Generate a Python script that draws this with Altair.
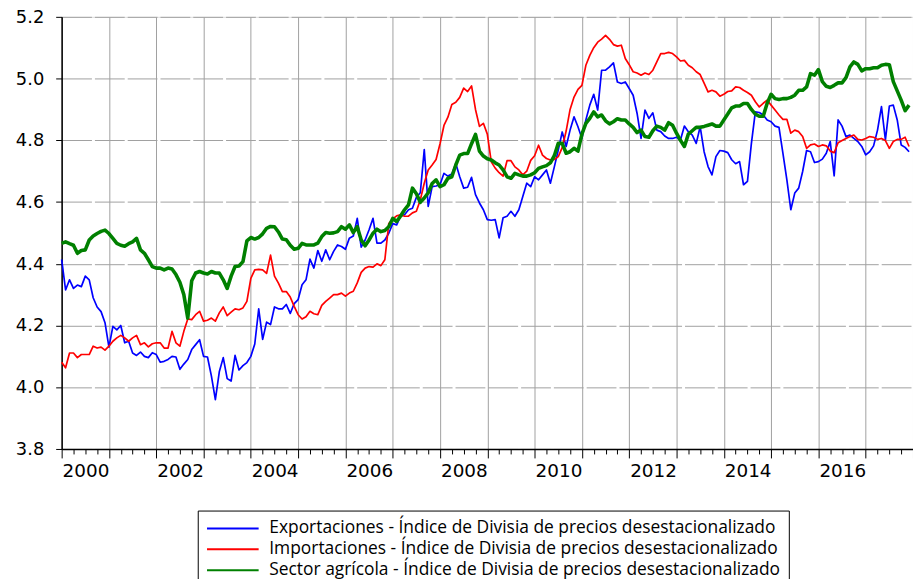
import altair as alt
import pandas as pd

# Monthly values, Jan 2000 - Dec 2017
exportaciones = [
    4.414, 4.315, 4.348, 4.32, 4.331, 4.326, 4.36, 4.348, 4.29, 4.26, 4.245, 4.209,
    4.13, 4.197, 4.186, 4.2, 4.144, 4.149, 4.111, 4.103, 4.114, 4.1, 4.096, 4.112,
    4.106, 4.081, 4.084, 4.09, 4.1, 4.098, 4.058, 4.075, 4.09, 4.122, 4.138, 4.154,
    4.1, 4.098, 4.036, 3.96, 4.05, 4.096, 4.028, 4.02, 4.103, 4.056, 4.07, 4.08,
    4.1, 4.14, 4.254, 4.155, 4.211, 4.203, 4.26, 4.254, 4.254, 4.268, 4.239, 4.271,
    4.284, 4.332, 4.348, 4.415, 4.386, 4.443, 4.408, 4.445, 4.413, 4.44, 4.461, 4.456,
    4.447, 4.483, 4.49, 4.547, 4.454, 4.477, 4.51, 4.547, 4.467, 4.467, 4.477, 4.499,
    4.53, 4.526, 4.554, 4.559, 4.575, 4.58, 4.615, 4.63, 4.77, 4.586, 4.65, 4.652,
    4.656, 4.693, 4.684, 4.691, 4.725, 4.682, 4.645, 4.648, 4.68, 4.624, 4.597, 4.575,
    4.543, 4.541, 4.543, 4.484, 4.549, 4.554, 4.57, 4.554, 4.575, 4.618, 4.661, 4.65,
    4.682, 4.672, 4.688, 4.704, 4.661, 4.714, 4.768, 4.827, 4.78, 4.833, 4.876, 4.844,
    4.806, 4.866, 4.914, 4.949, 4.898, 5.027, 5.027, 5.038, 5.051, 4.989, 4.984, 4.989,
    4.968, 4.946, 4.887, 4.806, 4.898, 4.871, 4.889, 4.833, 4.828, 4.814, 4.806, 4.806,
    4.81, 4.801, 4.846, 4.828, 4.817, 4.79, 4.844, 4.763, 4.715, 4.688, 4.747, 4.767,
    4.765, 4.76, 4.737, 4.724, 4.731, 4.656, 4.667, 4.79, 4.892, 4.89, 4.882, 4.866,
    4.86, 4.846, 4.842, 4.758, 4.672, 4.575, 4.629, 4.645, 4.699, 4.767, 4.763, 4.728,
    4.731, 4.739, 4.758, 4.796, 4.685, 4.866, 4.846, 4.812, 4.817, 4.806, 4.796, 4.78,
    4.753, 4.763, 4.782, 4.833, 4.909, 4.801, 4.911, 4.914, 4.866, 4.785, 4.777, 4.763,
]

importaciones = [
    4.081, 4.063, 4.111, 4.111, 4.096, 4.106, 4.106, 4.106, 4.133, 4.127, 4.13, 4.12,
    4.133, 4.149, 4.16, 4.168, 4.16, 4.149, 4.16, 4.168, 4.138, 4.144, 4.131, 4.141,
    4.144, 4.144, 4.127, 4.127, 4.181, 4.144, 4.133, 4.181, 4.221, 4.219, 4.235, 4.246,
    4.214, 4.217, 4.224, 4.214, 4.241, 4.26, 4.232, 4.243, 4.254, 4.251, 4.257, 4.278,
    4.353, 4.38, 4.382, 4.38, 4.369, 4.428, 4.36, 4.337, 4.31, 4.31, 4.292, 4.262,
    4.235, 4.221, 4.228, 4.246, 4.238, 4.235, 4.265, 4.278, 4.289, 4.3, 4.3, 4.305,
    4.295, 4.305, 4.311, 4.338, 4.372, 4.386, 4.391, 4.389, 4.4, 4.394, 4.413, 4.53,
    4.545, 4.555, 4.559, 4.554, 4.554, 4.565, 4.57, 4.607, 4.661, 4.704, 4.72, 4.738,
    4.789, 4.848, 4.875, 4.916, 4.923, 4.939, 4.969, 4.958, 4.976, 4.9, 4.845, 4.855,
    4.82, 4.73, 4.71, 4.695, 4.684, 4.734, 4.734, 4.714, 4.704, 4.688, 4.7, 4.735,
    4.75, 4.784, 4.752, 4.741, 4.736, 4.738, 4.747, 4.776, 4.83, 4.9, 4.94, 4.965,
    4.978, 5.043, 5.075, 5.1, 5.118, 5.128, 5.14, 5.127, 5.11, 5.105, 5.108, 5.065,
    5.045, 5.022, 5.018, 5.011, 5.018, 5.013, 5.027, 5.054, 5.081, 5.081, 5.085, 5.081,
    5.07, 5.057, 5.059, 5.043, 5.035, 5.022, 5.013, 4.985, 4.957, 4.962, 4.957, 4.943,
    4.949, 4.958, 4.96, 4.973, 4.971, 4.962, 4.955, 4.946, 4.925, 4.908, 4.92, 4.93,
    4.914, 4.898, 4.882, 4.868, 4.868, 4.823, 4.833, 4.828, 4.812, 4.774, 4.785, 4.788,
    4.78, 4.785, 4.782, 4.765, 4.76, 4.792, 4.799, 4.806, 4.812, 4.817, 4.803, 4.801,
    4.806, 4.812, 4.81, 4.803, 4.806, 4.799, 4.774, 4.796, 4.803, 4.803, 4.81, 4.78,
]

agricola = [
    4.466, 4.471, 4.465, 4.46, 4.434, 4.443, 4.445, 4.477, 4.49, 4.498, 4.505, 4.509,
    4.498, 4.482, 4.466, 4.46, 4.457, 4.465, 4.471, 4.482, 4.445, 4.434, 4.413, 4.391,
    4.386, 4.386, 4.38, 4.386, 4.383, 4.365, 4.34, 4.3, 4.224, 4.345, 4.37, 4.375,
    4.37, 4.367, 4.375, 4.37, 4.37, 4.348, 4.32, 4.36, 4.391, 4.393, 4.407, 4.474,
    4.485, 4.48, 4.485, 4.497, 4.515, 4.521, 4.52, 4.503, 4.48, 4.478, 4.46, 4.447,
    4.45, 4.466, 4.461, 4.461, 4.461, 4.467, 4.488, 4.501, 4.499, 4.5, 4.504, 4.52,
    4.512, 4.526, 4.501, 4.52, 4.477, 4.458, 4.477, 4.499, 4.512, 4.504, 4.508, 4.52,
    4.547, 4.537, 4.555, 4.575, 4.591, 4.645, 4.627, 4.599, 4.613, 4.63, 4.66, 4.672,
    4.65, 4.656, 4.677, 4.682, 4.72, 4.752, 4.757, 4.757, 4.789, 4.819, 4.765, 4.749,
    4.74, 4.736, 4.727, 4.72, 4.704, 4.682, 4.677, 4.693, 4.688, 4.684, 4.684, 4.688,
    4.695, 4.709, 4.714, 4.718, 4.727, 4.75, 4.79, 4.79, 4.758, 4.763, 4.774, 4.765,
    4.82, 4.855, 4.871, 4.892, 4.876, 4.882, 4.863, 4.853, 4.86, 4.87, 4.866, 4.866,
    4.853, 4.842, 4.825, 4.833, 4.812, 4.81, 4.831, 4.846, 4.842, 4.833, 4.857, 4.849,
    4.823, 4.8, 4.78, 4.82, 4.831, 4.842, 4.842, 4.845, 4.849, 4.853, 4.846, 4.846,
    4.866, 4.885, 4.905, 4.911, 4.911, 4.919, 4.919, 4.9, 4.885, 4.878, 4.878, 4.92,
    4.949, 4.935, 4.932, 4.935, 4.935, 4.939, 4.946, 4.962, 4.962, 4.973, 5.016, 5.011,
    5.029, 4.99, 4.975, 4.971, 4.978, 4.986, 4.986, 5.003, 5.038, 5.054, 5.046, 5.025,
    5.032, 5.032, 5.035, 5.035, 5.043, 5.046, 5.045, 4.99, 4.96, 4.93, 4.896, 4.914,
]

nombres = [
    "Exportaciones - Índice de Divisia de precios desestacionalizado",
    "Importaciones - Índice de Divisia de precios desestacionalizado",
    "Sector agrícola - Índice de Divisia de precios desestacionalizado",
]
colores = ["#0000ff", "#ff0000", "#008000"]
grosores = [1.7, 1.7, 3.6]

y_ticks = [3.8, 4.0, 4.2, 4.4, 4.6, 4.8, 5.0, 5.2]
x_ticks = [2000 + q / 4 for q in range(73)]  # quarterly ticks 2000..2018

rows = []
for nombre, valores in zip(nombres, [exportaciones, importaciones, agricola]):
    for m, v in enumerate(valores):
        rows.append({"fecha": 2000 + m / 12, "valor": v, "serie": nombre})
df = pd.DataFrame(rows)

x_axis = alt.Axis(
    values=x_ticks,
    title=None,
    labelExpr="(datum.value % 2 == 0 && datum.value < 2018) ? format(datum.value, 'd') : ''",
    labelOffset=24,
    labelPadding=4,
    labelFont="DejaVu Sans",
    labelFontSize=18.5,
    labelColor="black",
    labelOverlap=False,
    labelFlush=False,
    tickColor="black",
    tickWidth=1,
    tickSize={"condition": {"test": "datum.value % 1 == 0", "value": 9}, "value": 5},
    grid=True,
    gridColor="#a0a0a0",
    gridWidth=1,
    gridOpacity={"condition": {"test": "datum.value % 1 == 0", "value": 1}, "value": 0},
    domainColor="black",
    domainWidth=1.5,
)

y_axis = alt.Axis(
    values=y_ticks,
    format=".1f",
    title=None,
    labelFont="DejaVu Sans",
    labelFontSize=18,
    labelColor="black",
    labelPadding=12,
    labelOffset=0.5,
    tickColor="black",
    tickSize=6,
    grid=True,
    gridColor="#a0a0a0",
    gridWidth=1,
    gridDash=[30, 3],
    domainColor="black",
    domainWidth=1.5,
)

legend = alt.Legend(
    title=None,
    orient="none",
    legendX=137,
    legendY=497,
    direction="vertical",
    strokeColor="black",
    padding=8,
    symbolType="M-1,0H5",
    symbolSize=300,
    symbolStrokeWidth=2,
    labelFont="Open Sans",
    labelFontSize=17.5,
    labelColor="black",
    labelLimit=0,
    labelOffset=44,
    rowPadding=2,
)

base = alt.Chart(df).encode(
    x=alt.X("fecha:Q", scale=alt.Scale(domain=[2000, 2018], nice=False, zero=False), axis=x_axis),
    y=alt.Y("valor:Q", scale=alt.Scale(domain=[3.8, 5.2], nice=False, zero=False), axis=y_axis),
    color=alt.Color("serie:N", scale=alt.Scale(domain=nombres, range=colores), legend=legend),
)

layers = [
    base.transform_filter(alt.datum.serie == nombre).mark_line(strokeWidth=w, strokeJoin="round")
    for nombre, w in zip(nombres, grosores)
]

chart = (
    alt.layer(*layers)
    .properties(
        width=857,
        height=435,
        autosize=alt.AutoSizeParams(type="none"),
        padding={"left": 54, "top": 7, "right": 0, "bottom": 129},
    )
    .configure_view(stroke="black", strokeWidth=1.5)
    .configure(background="white")
)

chart.save("out.html", embed_options={"renderer": "svg", "actions": False})
